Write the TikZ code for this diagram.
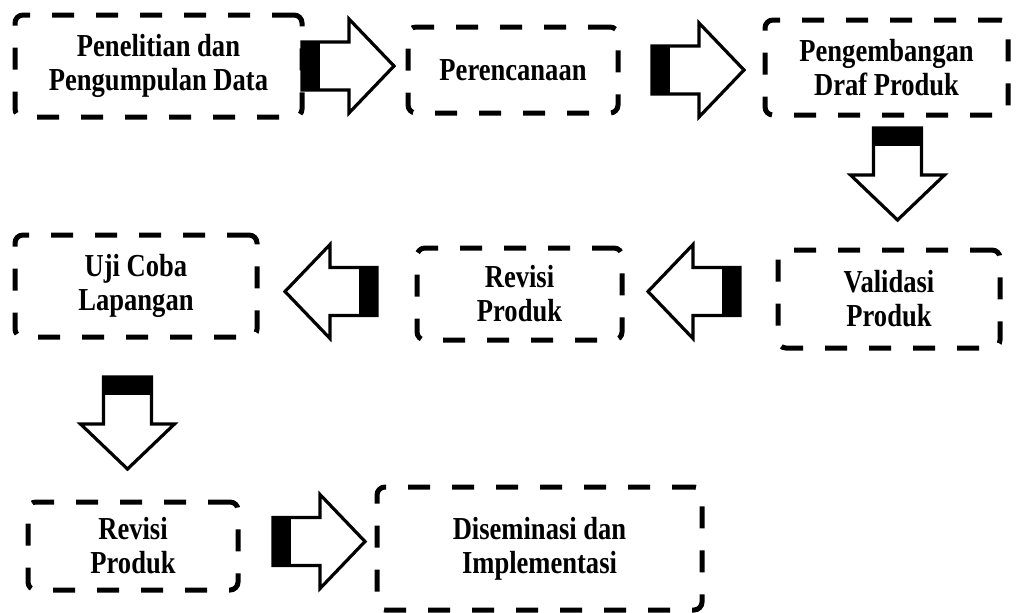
\documentclass[tikz,border=0pt]{standalone}
\usepackage{fontspec}
\setmainfont{Liberation Serif}[FakeStretch=0.83]

\tikzset{
  stage/.style={draw, line width=2.5pt, dash pattern=on 11pt off 11pt,
    rounded corners=4pt, align=center, inner sep=0pt,
    font=\bfseries\fontsize{16}{17}\selectfont},
  blockarrow/.pic={
    \draw[line width=1.6pt, fill=white, line join=miter]
      (0,-24) -- (47,-24) -- (47,-47) -- (92,0) -- (47,47) -- (47,24) -- (0,24) -- cycle;
    \fill (0,-25) rectangle (18,25);
  }
}

\begin{document}
\begin{tikzpicture}[x=0.5pt, y=-0.5pt]
\useasboundingbox (0,0) rectangle (1020,612);

    % Place nodes
    \node [stage, minimum width=143.5pt, minimum height=51pt] (riset) at (158.5,66) {Penelitian dan\\Pengumpulan Data};
    \node [stage, minimum width=105pt, minimum height=43pt] (rencana) at (513,70) {Perencanaan};
    \node [stage, minimum width=121.5pt, minimum height=47.5pt] (draf) at (886.5,67.5) {Pengembangan\\Draf Produk};
    \node [stage, minimum width=111pt, minimum height=49pt] (validasi) at (889,299) {Validasi\\Produk};
    \node [stage, minimum width=102.5pt, minimum height=46pt] (revisisatu) at (519.5,294) {Revisi\\Produk};
    \node [stage, minimum width=121pt, minimum height=51pt] (ujicoba) at (136,286) {Uji Coba\\Lapangan};
    \node [stage, minimum width=105pt, minimum height=44pt] (revisidua) at (133,546) {Revisi\\Produk};
    \node [stage, minimum width=162.5pt, minimum height=61.5pt] (diseminasi) at (539.5,548.5) {Diseminasi dan\\Implementasi};

    % Block arrows
    \pic (risetrencana) at (302,66) {blockarrow};
    \pic (rencanadraf) at (652,70) {blockarrow};
    \pic[rotate=-90] (drafvalidasi) at (897.5,128) {blockarrow};
    \pic[rotate=180] (validasirevisi) at (740,291.5) {blockarrow};
    \pic[rotate=180] (revisiuji) at (377,291.5) {blockarrow};
    \pic[rotate=-90] (ujirevisi) at (127.5,377) {blockarrow};
    \pic (revisidiseminasi) at (273,541.5) {blockarrow};
\end{tikzpicture}
\end{document}
